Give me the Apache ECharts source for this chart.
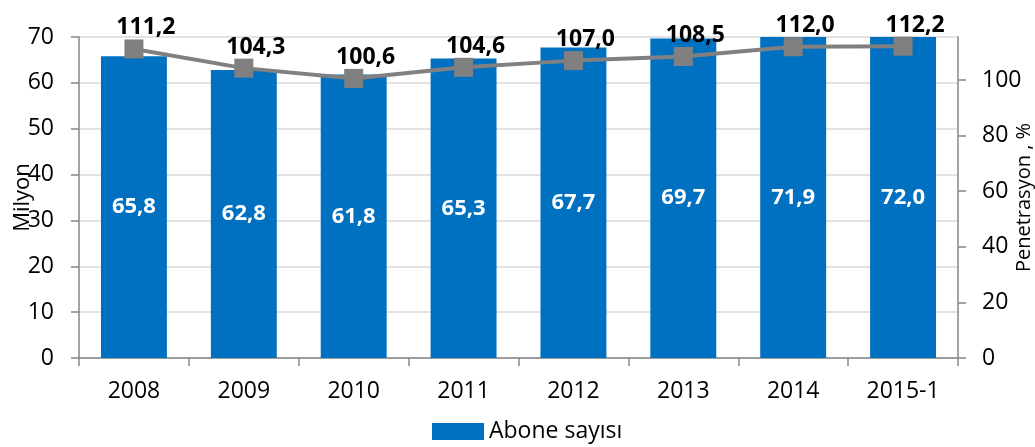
<!DOCTYPE html>
<html><head><meta charset="utf-8">
<script src="https://cdn.jsdelivr.net/npm/echarts@6/dist/echarts.min.js"></script>
<style>html,body{margin:0;padding:0;background:#fff}#c{width:1035px;height:447px}</style>
</head><body><div id="c"></div>
<script>
const categories = ['2008','2009','2010','2011','2012','2013','2014','2015-1'];
const aboneSayisi = [65.8, 62.8, 61.8, 65.3, 67.7, 69.7, 71.9, 72.0];
const penetrasyon = [111.2, 104.3, 100.6, 104.6, 107.0, 108.5, 112.0, 112.2];
const leftTicks = [0,10,20,30,40,50,60,70];
const rightTicks = [0,20,40,60,80,100];

const FONT = '"Open Sans", "Noto Sans", sans-serif';
const fmt = v => v.toFixed(1).replace('.', ',');
const chart = echarts.init(document.getElementById('c'));
chart.setOption({
  animation: false,
  textStyle: {fontFamily: FONT},
  grid: {left: 79, right: 77, top: 37, bottom: 89, containLabel: false, outerBoundsMode: 'none'},
  legend: {
    data: ['Abone sayısı'], left: 427, top: 415,
    itemWidth: 52, itemHeight: 17, itemGap: 6,
    textStyle: {fontSize: 23, color: '#000', fontFamily: FONT},
    icon: 'rect'
  },
  xAxis: {
    type: 'category', data: categories,
    axisLine: {lineStyle: {color: '#868686', width: 1.5}},
    axisTick: {show: true, length: 8, lineStyle: {color: '#868686', width: 1.5}},
    axisLabel: {fontSize: 23, color: '#000', margin: 22, fontFamily: FONT}
  },
  yAxis: [{
    type: 'value', min: 0, max: 70, interval: 10,
    name: 'Milyon', nameLocation: 'middle', nameGap: 45, nameRotate: 90, nameMoveOverlap: false,
    nameTextStyle: {fontSize: 22, color: '#000', fontFamily: FONT},
    axisLine: {show: true, lineStyle: {color: '#868686', width: 1.5}},
    axisTick: {show: true, length: 8, lineStyle: {color: '#868686', width: 1.5}},
    axisLabel: {fontSize: 23, color: '#000', margin: 25, fontFamily: FONT,
      customValues: leftTicks},
    splitLine: {show: true, lineStyle: {color: '#D9D9D9', width: 1.5}}
  }, {
    type: 'value', min: 0, max: 115.5, interval: 20,
    name: 'Penetrasyon , %', nameLocation: 'middle', nameGap: 56, nameRotate: 90, nameMoveOverlap: false,
    nameTextStyle: {fontSize: 20, color: '#000', fontFamily: FONT},
    axisLine: {show: true, lineStyle: {color: '#868686', width: 1.5}},
    axisTick: {show: true, length: 8, lineStyle: {color: '#868686', width: 1.5}, customValues: rightTicks},
    axisLabel: {fontSize: 23, color: '#000', margin: 24, fontFamily: FONT, customValues: rightTicks},
    splitLine: {show: false}
  }],
  series: [{
    name: 'Abone sayısı', type: 'bar', data: aboneSayisi, yAxisIndex: 0,
    barWidth: '60%', clip: true,
    itemStyle: {color: '#0070C0'},
    label: {show: true, position: 'inside', color: '#fff', fontWeight: 'bold', fontSize: 22,
      fontFamily: FONT, formatter: p => fmt(p.value)}
  }, {
    name: 'Penetrasyon', type: 'line', data: penetrasyon, yAxisIndex: 1,
    lineStyle: {color: '#808080', width: 4},
    itemStyle: {color: '#808080'},
    symbol: 'rect', symbolSize: 19,
    label: {show: true, position: 'top', distance: 0, offset: [12, 0], color: '#000', fontWeight: 'bold',
      fontSize: 23, fontFamily: FONT, formatter: p => fmt(p.value)},
    z: 5
  }]
});
</script></body></html>
